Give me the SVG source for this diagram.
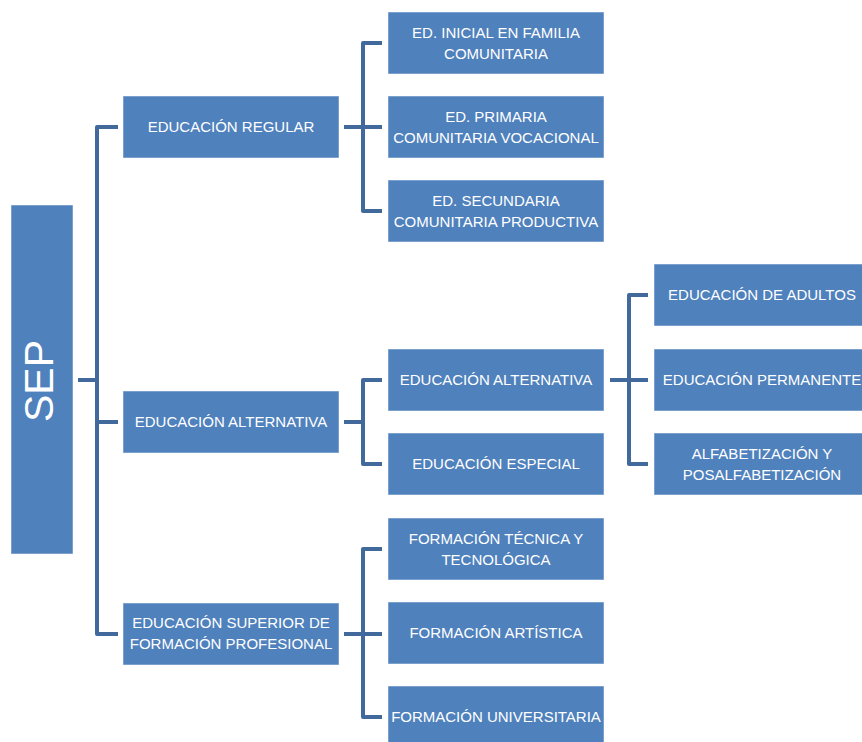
<svg xmlns="http://www.w3.org/2000/svg" width="862" height="742" viewBox="0 0 862 742">
<style>
.box{fill:#4F81BD;stroke:#ffffff;stroke-opacity:0.5;stroke-width:1}
.t{fill:#ffffff;font-family:"Liberation Sans",Arial,sans-serif;font-size:15px;text-anchor:middle}
.sep{fill:#ffffff;font-family:"Liberation Sans",Arial,sans-serif;font-size:41px;text-anchor:middle}
.c{fill:none;stroke:#42699B;stroke-width:4;stroke-linejoin:round}
</style>
<rect width="862" height="742" fill="#ffffff"/>
<g id="connectors">
<path class="c" d="M78 380 H97"/>
<path class="c" d="M118 127 H97 V634 H118"/>
<path class="c" d="M97 422 H118"/>
<path class="c" d="M344 127 H382"/>
<path class="c" d="M382 43 H363 V211 H382"/>
<path class="c" d="M344 422 H363"/>
<path class="c" d="M382 380 H363 V464 H382"/>
<path class="c" d="M344 634 H382"/>
<path class="c" d="M382 549 H363 V717 H382"/>
<path class="c" d="M610 380 H648"/>
<path class="c" d="M648 295 H629 V464 H648"/>
</g>
<g id="sep"><rect class="box" x="11" y="205" width="62" height="349"/><text class="sep" transform="translate(53,381) rotate(-90)">SEP</text></g>
<g id="regular"><rect class="box" x="123" y="96" width="216" height="62"/><text class="t" x="231" y="132">EDUCACIÓN REGULAR</text></g>
<g id="alternativa1"><rect class="box" x="123" y="391" width="216" height="62"/><text class="t" x="231" y="427">EDUCACIÓN ALTERNATIVA</text></g>
<g id="superior"><rect class="box" x="123" y="603" width="216" height="62"/><text class="t" x="231" y="628">EDUCACIÓN SUPERIOR DE</text><text class="t" x="231" y="649">FORMACIÓN PROFESIONAL</text></g>
<g id="inicial"><rect class="box" x="388" y="12" width="216" height="62"/><text class="t" x="496" y="38">ED. INICIAL EN FAMILIA</text><text class="t" x="496" y="59">COMUNITARIA</text></g>
<g id="primaria"><rect class="box" x="388" y="96" width="216" height="62"/><text class="t" x="496" y="122">ED. PRIMARIA</text><text class="t" x="496" y="143">COMUNITARIA VOCACIONAL</text></g>
<g id="secundaria"><rect class="box" x="388" y="180" width="216" height="62"/><text class="t" x="496" y="206">ED. SECUNDARIA</text><text class="t" x="496" y="227">COMUNITARIA PRODUCTIVA</text></g>
<g id="alternativa2"><rect class="box" x="388" y="349" width="216" height="62"/><text class="t" x="496" y="385">EDUCACIÓN ALTERNATIVA</text></g>
<g id="especial"><rect class="box" x="388" y="433" width="216" height="62"/><text class="t" x="496" y="469">EDUCACIÓN ESPECIAL</text></g>
<g id="tecnica"><rect class="box" x="388" y="518" width="216" height="62"/><text class="t" x="496" y="544">FORMACIÓN TÉCNICA Y</text><text class="t" x="496" y="565">TECNOLÓGICA</text></g>
<g id="artistica"><rect class="box" x="388" y="602" width="216" height="62"/><text class="t" x="496" y="638">FORMACIÓN ARTÍSTICA</text></g>
<g id="universitaria"><rect class="box" x="388" y="686" width="216" height="62"/><text class="t" x="496" y="722">FORMACIÓN UNIVERSITARIA</text></g>
<g id="adultos"><rect class="box" x="654" y="264" width="216" height="62"/><text class="t" x="762" y="300">EDUCACIÓN DE ADULTOS</text></g>
<g id="permanente"><rect class="box" x="654" y="349" width="216" height="62"/><text class="t" x="762" y="385">EDUCACIÓN PERMANENTE</text></g>
<g id="alfabetizacion"><rect class="box" x="654" y="433" width="216" height="62"/><text class="t" x="762" y="459">ALFABETIZACIÓN Y</text><text class="t" x="762" y="480">POSALFABETIZACIÓN</text></g>
</svg>
